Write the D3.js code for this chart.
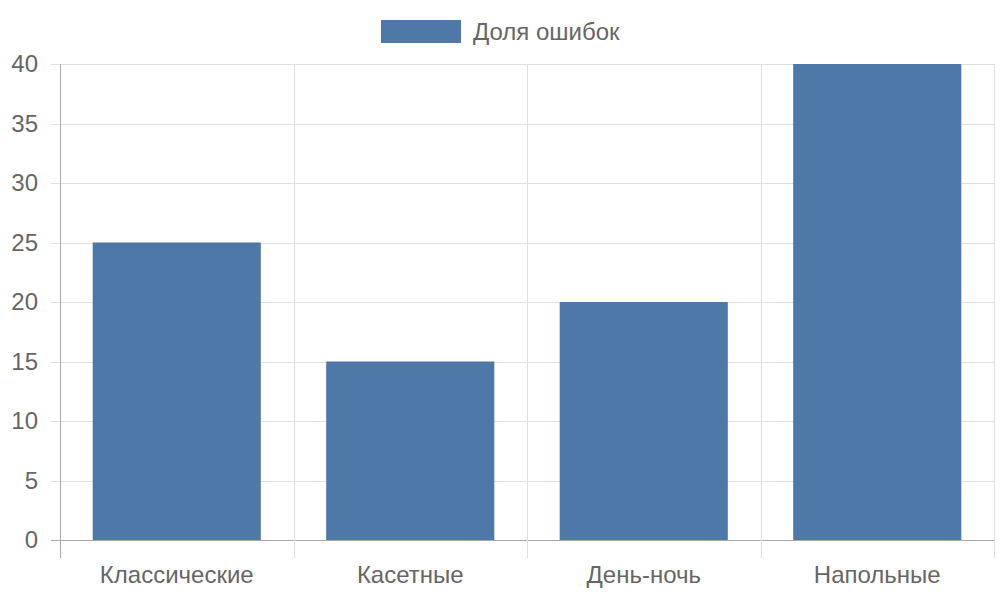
<!DOCTYPE html>
<html>
<head>
<meta charset="utf-8">
<script src="https://cdn.jsdelivr.net/npm/d3@7"></script>
<style>
  body { margin: 0; background: #fff; }
  text { font-family: "Liberation Sans", Arial, sans-serif; fill: #666; }
</style>
</head>
<body>
<div id="chart"></div>
<script>
const categories = ["Классические", "Касетные", "День-ночь", "Напольные"];
const values = [25, 15, 20, 40];
const seriesName = "Доля ошибок";
const yTicks = [0, 5, 10, 15, 20, 25, 30, 35, 40];

const width = 1000, height = 600;
const margin = { top: 64, right: 6, bottom: 60, left: 60 };
const barColor = "#4e78a8";

const svg = d3.select("#chart").append("svg")
    .attr("width", width)
    .attr("height", height);

const xScale = d3.scaleBand()
    .domain(categories)
    .range([margin.left, width - margin.right])
    .paddingInner(0).paddingOuter(0);

const yScale = d3.scaleLinear()
    .domain([0, 40])
    .range([height - margin.bottom, margin.top]);

const plotBottom = height - margin.bottom;

// horizontal gridlines
svg.append("g")
    .selectAll("line")
    .data(yTicks)
    .enter()
    .append("line")
    .attr("x1", margin.left - 9)
    .attr("x2", width - margin.right)
    .attr("y1", d => Math.round(yScale(d)) + 0.5)
    .attr("y2", d => Math.round(yScale(d)) + 0.5)
    .attr("stroke", d => d === 0 ? "#aaa" : "#e0e0e0")
    .attr("stroke-width", 1);

// vertical gridlines at category boundaries
const bounds = categories.map(c => xScale(c)).concat([width - margin.right]);
svg.append("g")
    .selectAll("line")
    .data(bounds)
    .enter()
    .append("line")
    .attr("x1", d => Math.round(d) + 0.5)
    .attr("x2", d => Math.round(d) + 0.5)
    .attr("y1", margin.top)
    .attr("y2", plotBottom + 18)
    .attr("stroke", (d, i) => i === 0 ? "#aaa" : "#e0e0e0")
    .attr("stroke-width", 1);

// bars
const barW = xScale.bandwidth() * 0.72;
svg.append("g")
    .selectAll("rect")
    .data(values)
    .enter()
    .append("rect")
    .attr("x", (d, i) => xScale(categories[i]) + (xScale.bandwidth() - barW) / 2)
    .attr("y", d => yScale(d))
    .attr("width", barW)
    .attr("height", d => plotBottom - yScale(d))
    .attr("fill", barColor);

// y tick labels
svg.append("g")
    .selectAll("text")
    .data(yTicks)
    .enter()
    .append("text")
    .attr("x", 38)
    .attr("y", d => yScale(d))
    .attr("dy", "0.35em")
    .attr("text-anchor", "end")
    .style("font-size", "24px")
    .text(d => d);

// x labels
svg.append("g")
    .selectAll("text")
    .data(categories)
    .enter()
    .append("text")
    .attr("x", d => xScale(d) + xScale.bandwidth() / 2)
    .attr("y", 575)
    .attr("dy", "0.35em")
    .attr("text-anchor", "middle")
    .style("font-size", "24px")
    .text(d => d);

// legend
svg.append("rect")
    .attr("x", 381)
    .attr("y", 20)
    .attr("width", 80)
    .attr("height", 23)
    .attr("fill", barColor);
svg.append("text")
    .attr("x", 473)
    .attr("y", 32)
    .attr("dy", "0.35em")
    .style("font-size", "24px")
    .text(seriesName);
</script>
</body>
</html>
